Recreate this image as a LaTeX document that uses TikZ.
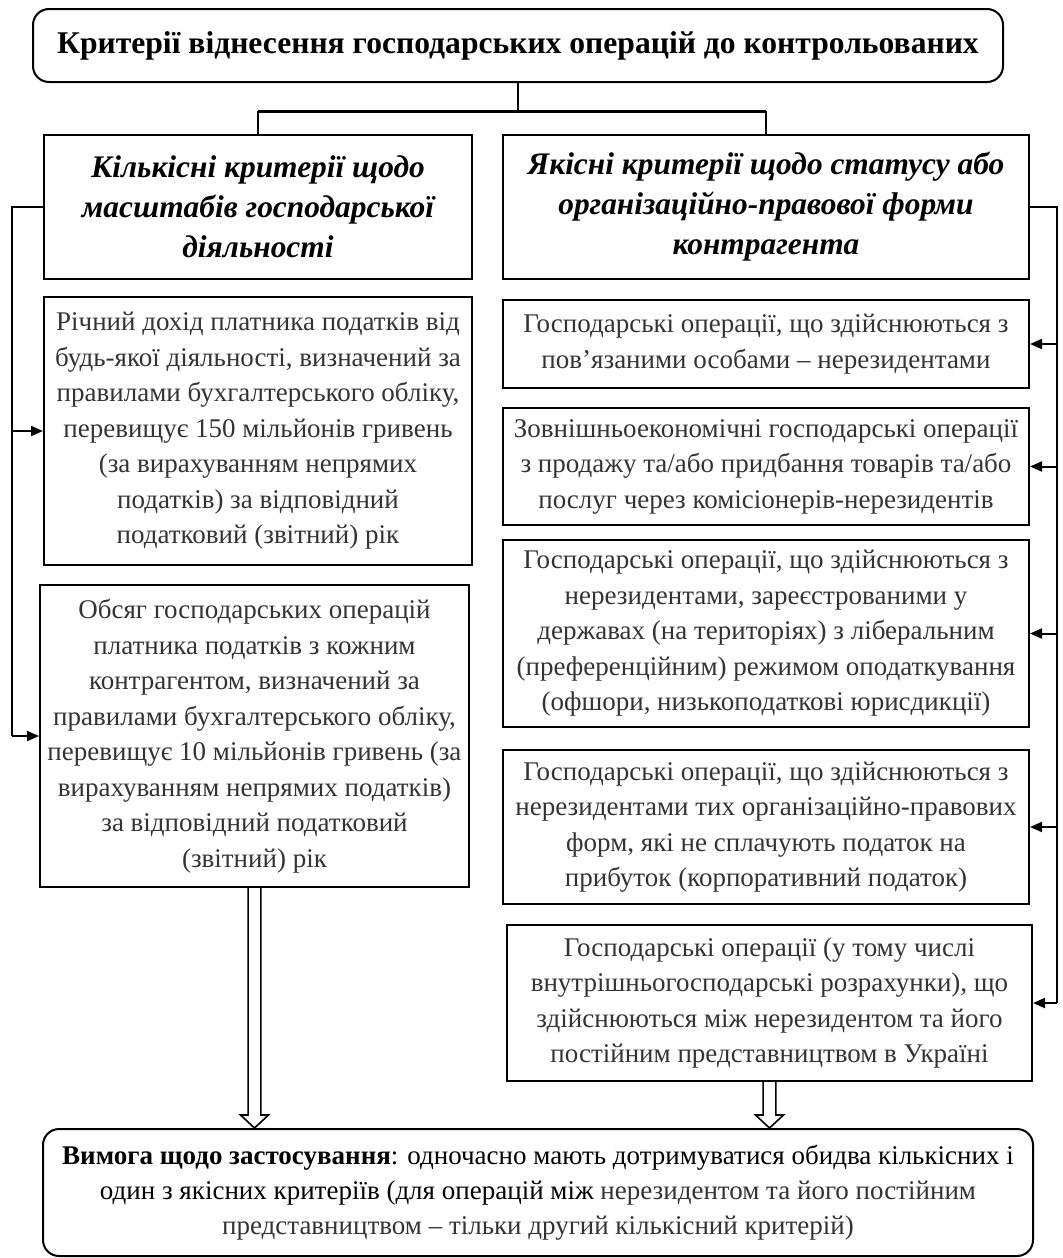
\documentclass[tikz,border=0pt]{standalone}
\usepackage{fontspec}
\setmainfont{Liberation Serif}
\usepackage{xcolor}
\usepackage{tikz}
\usetikzlibrary{arrows.meta,positioning,calc}
\definecolor{bodytext}{HTML}{333333}

\newcommand\dblarrow[2]{%
\draw[line width=0.8pt,fill=white,line join=miter] let \p1=(#1),\p2=(#2) in
  (\x1-3.2pt,\y1)--(\x1-3.2pt,\y2+6.5pt)--(\x1-7pt,\y2+6.5pt)--(\x1,\y2)
  --(\x1+7pt,\y2+6.5pt)--(\x1+3.2pt,\y2+6.5pt)--(\x1+3.2pt,\y1);}

\begin{document}
\begin{tikzpicture}[x=0.5pt,y=-0.5pt,>={Triangle[length=6pt,width=5pt]},
  box/.style={draw,line width=1pt,inner sep=2pt,align=center,text=bodytext,font=\fontsize{13.5}{17.75}\selectfont},
  headbox/.style={draw,line width=1pt,inner sep=2pt,align=center,font=\fontsize{15.7}{20}\selectfont\bfseries\itshape},
  roundbox/.style={draw,line width=1pt,rounded corners=8pt,inner sep=2pt,align=center}]
\useasboundingbox (0,0) rectangle (1062,1258);
\node[roundbox,minimum width=485pt,minimum height=36.5pt,font=\fontsize{15.8}{20}\selectfont\bfseries] (crit) at (518,45.5) {Критерії віднесення господарських операцій до контрольованих};
\node[headbox,minimum width=214pt,minimum height=72pt] (kilk) at (258,207) {Кількісні критерії щодо\\ масштабів господарської\\ діяльності};
\node[headbox,minimum width=263pt,minimum height=72pt] (yak) at (766,207) {Якісні критерії щодо статусу або\\ організаційно-правової форми\\ контрагента};
\node[box,minimum width=214pt,minimum height=134pt] (dokhid) at (258,431) {Річний дохід платника податків від\\ будь-якої діяльності, визначений за\\ правилами бухгалтерського обліку,\\ перевищує 150 мільйонів гривень\\ (за вирахуванням непрямих\\ податків) за відповідний\\ податковий (звітний) рік};
\node[box,minimum width=214.5pt,minimum height=151pt] (obsiah) at (254.5,736) {Обсяг господарських операцій\\ платника податків з кожним\\ контрагентом, визначений за\\ правилами бухгалтерського обліку,\\ перевищує 10 мільйонів гривень (за\\ вирахуванням непрямих податків)\\ за відповідний податковий\\ (звітний) рік};
\node[box,minimum width=263pt,minimum height=44pt] (pov) at (766,344) {Господарські операції, що здійснюються з\\ пов’язаними особами – нерезидентами};
\node[box,minimum width=263pt,minimum height=58.5pt] (zovn) at (766,466.5) {Зовнішньоекономічні господарські операції\\ з продажу та/або придбання товарів та/або\\ послуг через комісіонерів-нерезидентів};
\node[box,minimum width=263pt,minimum height=93.5pt] (ofshor) at (766,633.5) {Господарські операції, що здійснюються з\\ нерезидентами, зареєстрованими у\\ державах (на територіях) з ліберальним\\ (преференційним) режимом оподаткування\\ (офшори, низькоподаткові юрисдикції)};
\node[box,minimum width=263pt,minimum height=77pt] (forma) at (766,827) {Господарські операції, що здійснюються з\\ нерезидентами тих організаційно-правових\\ форм, які не сплачують податок на\\ прибуток (корпоративний податок)};
\node[box,minimum width=262.5pt,minimum height=78pt] (predst) at (769.5,1003) {Господарські операції (у тому числі\\ внутрішньогосподарські розрахунки), що\\ здійснюються між нерезидентом та його\\ постійним представництвом в Україні};
\node[roundbox,minimum width=495pt,minimum height=63.5pt,font=\fontsize{13.5}{17.5}\selectfont] (vymoga) at (538,1192.5) {\textbf{Вимога щодо застосування}: одночасно мають дотримуватися обидва кількісних і\\ один з якісних критеріїв (для операцій між {\color{bodytext}нерезидентом та його постійним}\\ {\color{bodytext}представництвом – тільки другий кількісний критерій)}};

\draw[line width=1pt] (crit.south) -- ++(0,28) coordinate (fork);
\draw[line width=1.5pt] (kilk.north |- fork) -- (yak.north |- fork);
\draw[line width=1pt] (kilk.north |- fork) -- (kilk.north);
\draw[line width=1pt] (yak.north |- fork) -- (yak.north);

\coordinate (lb) at (12,0);
\coordinate (rb) at (1057,0);
\draw[line width=1pt] (kilk.west) -| (lb |- obsiah.west);
\foreach \n in {dokhid,obsiah}
  \draw[line width=1pt,->] (lb |- \n.west) -- (\n.west);
\draw[line width=1pt] (yak.east) -| (rb |- predst.east);
\foreach \n in {pov,zovn,ofshor,forma,predst}
  \draw[line width=1pt,->] (rb |- \n.east) -- (\n.east);

\dblarrow{obsiah.south}{obsiah.south |- vymoga.north}
\dblarrow{predst.south}{predst.south |- vymoga.north}
\end{tikzpicture}
\end{document}
